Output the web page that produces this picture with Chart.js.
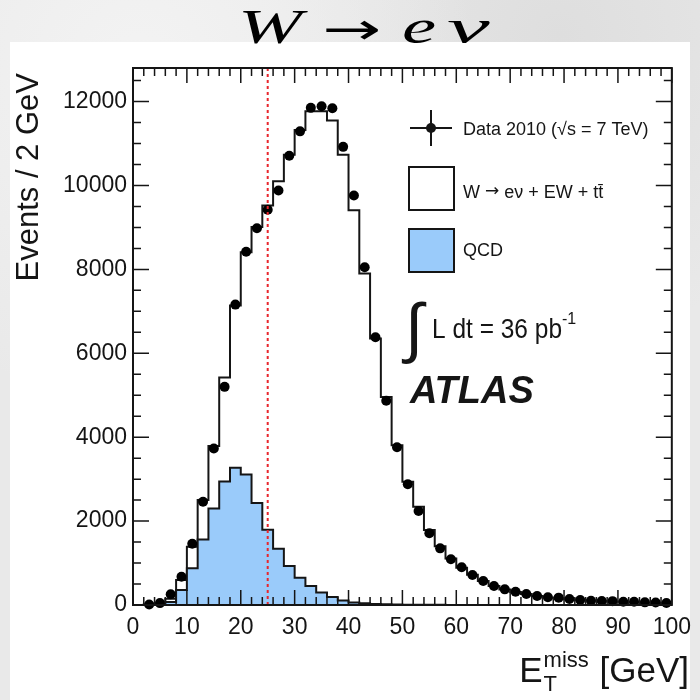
<!DOCTYPE html>
<html>
<head>
<meta charset="utf-8">
<script src="https://cdn.jsdelivr.net/npm/chart.js@4.4.1/dist/chart.umd.min.js"></script>
<style>
html,body{margin:0;padding:0;width:700px;height:700px;overflow:hidden;}
body{background:#e9e9e9;position:relative;
 background-image:radial-gradient(circle at 20% 10%, #f3f3f3 0, rgba(243,243,243,0) 40%),radial-gradient(circle at 80% 5%, #dedede 0, rgba(222,222,222,0) 35%);}
#panel{position:absolute;left:10px;top:42px;width:680px;height:658px;background:#fff;}
.tt{position:absolute;top:3px;font-family:"Liberation Serif","Times New Roman",serif;font-size:48px;line-height:48px;color:#000;white-space:nowrap;transform-origin:left top;transform:scaleX(1.6);}
.it{font-style:italic;}
.arr{font-family:"DejaVu Sans",sans-serif;font-size:44px;top:5px;}
#c{position:absolute;left:0;top:0;}
</style>
</head>
<body>
<div id="panel"></div>
<span class="tt it" style="left:238px">W</span>
<span class="tt arr" style="left:322px;transform:scaleX(1.6)">→</span>
<span class="tt it" style="left:402px">e</span>
<span class="tt it" style="left:447px;transform:scaleX(2.0)">ν</span>
<canvas id="c" width="700" height="700"></canvas>
<script>
// ---- data ----
const binWidth = 2;
const binLow = [0,2,4,6,8,10,12,14,16,18,20,22,24,26,28,30,32,34,36,38,40,42,44,46,48,50,52,54,56,58,60,62,64,66,68,70,72,74,76,78,80,82,84,86,88,90,92,94,96,98];
// W -> e nu + EW + ttbar + QCD stacked total (per bin)
const mcTotal = [0,10,40,150,595,1390,2500,3790,5420,7140,8410,9010,9520,10100,10730,11320,11770,11770,11550,10730,9410,7900,6350,4960,3810,2940,2340,1790,1400,1110,890,720,570,450,370,310,260,215,180,160,140,120,105,95,85,75,68,60,55,50];
// QCD background (per bin)
const qcd = [0,5,15,70,357,873,1560,2302,2945,3270,3111,2430,1795,1340,929,650,450,298,190,110,60,40,25,18,12,8,6,4,3,2,2,1,1,1,0,0,0,0,0,0,0,0,0,0,0,0,0,0,0,0];
// Data 2010
const dataCounts = [null,10,45,255,675,1460,2460,3730,5200,7160,8420,8980,9420,9880,10710,11290,11850,11890,11840,10920,9760,8050,6380,4870,3760,2880,2240,1710,1350,1090,900,715,570,452,373,317,262,214,183,175,143,119,103,95,92,79,77,63,60,48];
const xTickValues = [0,10,20,30,40,50,60,70,80,90,100];
const yTickValues = [0,2000,4000,6000,8000,10000,12000];
const cutValue = 25;
const legendData = "Data 2010 (\u221As = 7 TeV)";
const legendW = ["W ", "\u2192", " e\u03BD + EW + tt\u0304"];
const legendQCD = "QCD";
const lumiText = "L dt = 36 pb";

// ---- build ----
function stepPoints(vals){
  const pts = binLow.map((x,i)=>({x:x, y:vals[i]}));
  pts.push({x: binLow[binLow.length-1]+binWidth, y: vals[vals.length-1]});
  return pts;
}
const dataPts = binLow.map((x,i)=>({x:x+binWidth/2, y:dataCounts[i]})).filter(p=>p.y!==null);

const SANS = '"Liberation Sans", Arial, Helvetica, sans-serif';
const QCD_COLOR = '#9acbfa';
const INK = '#151515';

const overlay = {
  id:'overlay',
  afterDraw(chart){
    const {ctx, chartArea:a, scales:{x,y}} = chart;
    ctx.save();
    // cut line
    const cx = x.getPixelForValue(cutValue);
    ctx.strokeStyle = '#e8262c'; ctx.lineWidth = 2; ctx.setLineDash([3,3]);
    ctx.beginPath(); ctx.moveTo(cx, a.top); ctx.lineTo(cx, a.bottom); ctx.stroke();
    ctx.setLineDash([]);
    // frame
    ctx.strokeStyle = INK; ctx.lineWidth = 2;
    ctx.strokeRect(a.left, a.top, a.right-a.left, a.bottom-a.top);
    // ticks
    ctx.lineWidth = 1.5;
    ctx.beginPath();
    for(let v = x.min; v <= x.max + 1e-9; v += binWidth){
      const px = x.getPixelForValue(v);
      const L = xTickValues.includes(v) ? 15 : 8;
      ctx.moveTo(px, a.bottom); ctx.lineTo(px, a.bottom - L);
      ctx.moveTo(px, a.top); ctx.lineTo(px, a.top + L);
    }
    const yMinor = (yTickValues[1]-yTickValues[0])/4;
    for(let v = y.min; v <= y.max + 1e-9; v += yMinor){
      const py = y.getPixelForValue(v);
      const L = yTickValues.includes(v) ? 16 : 8;
      ctx.moveTo(a.left, py); ctx.lineTo(a.left + L, py);
      ctx.moveTo(a.right, py); ctx.lineTo(a.right - L, py);
    }
    ctx.stroke();

    // legend
    ctx.fillStyle = INK; ctx.strokeStyle = INK;
    ctx.lineWidth = 2;
    ctx.beginPath();
    ctx.moveTo(410,128); ctx.lineTo(452,128);
    ctx.moveTo(431,110); ctx.lineTo(431,146);
    ctx.stroke();
    ctx.beginPath(); ctx.arc(431,128,5,0,Math.PI*2); ctx.fill();
    ctx.font = '18px ' + SANS; ctx.textBaseline = 'middle'; ctx.textAlign = 'left';
    ctx.fillText(legendData, 463, 130, 194);
    ctx.fillStyle = '#fff'; ctx.fillRect(409,167,45,43);
    ctx.strokeRect(409,167,45,43);
    ctx.fillStyle = QCD_COLOR; ctx.fillRect(409,229,45,43);
    ctx.strokeRect(409,229,45,43);
    ctx.fillStyle = INK;
    // W -> e nu + EW + tt
    let lx = 463;
    ctx.font = '18px ' + SANS;
    ctx.fillText(legendW[0], lx, 193); lx += ctx.measureText(legendW[0]).width;
    ctx.font = '17px "DejaVu Sans", sans-serif';
    ctx.fillText(legendW[1], lx, 192); lx += ctx.measureText(legendW[1]).width;
    ctx.font = '18px ' + SANS;
    ctx.fillText(legendW[2], lx, 193);
    ctx.fillText(legendQCD, 463, 251);
    // lumi
    ctx.textBaseline = 'alphabetic';
    ctx.font = '66px ' + SANS;
    ctx.fillText('\u222B', 405, 350);
    ctx.font = '28px ' + SANS;
    ctx.fillText(lumiText, 432, 338, 130);
    ctx.font = '16px ' + SANS;
    ctx.fillText('-1', 562, 324);
    // ATLAS
    ctx.font = 'italic bold 38px ' + SANS;
    ctx.fillText('ATLAS', 410, 403, 126);

    // y axis title
    ctx.save();
    ctx.translate(38, 73); ctx.rotate(-Math.PI/2);
    ctx.font = '31px ' + SANS; ctx.textAlign = 'right'; ctx.textBaseline = 'alphabetic';
    ctx.fillText('Events / 2 GeV', 0, 0);
    ctx.restore();

    // x axis title
    const base = 682;
    ctx.textAlign = 'left';
    ctx.font = '35px ' + SANS; const wE = ctx.measureText('E').width; const wG = ctx.measureText(' [GeV]').width;
    ctx.font = '22px ' + SANS; const wM = ctx.measureText('miss').width;
    const start = 689 - (wE + wM + wG + 2);
    ctx.font = '35px ' + SANS;
    ctx.fillText('E', start, base);
    ctx.fillText(' [GeV]', start + wE + wM + 2, base);
    ctx.font = '22px ' + SANS;
    ctx.fillText('miss', start + wE + 1, base - 15);
    ctx.fillText('T', start + wE + 1, base + 9);
    ctx.restore();
  }
};

new Chart(document.getElementById('c'), {
  type: 'line',
  data: {
    datasets: [
      {label:'Data 2010', data:dataPts, showLine:false, pointRadius:5, pointBackgroundColor:'#000', pointBorderColor:'#000', pointBorderWidth:0, order:0, clip:false},
      {label:'QCD', data:stepPoints(qcd), stepped:'before', fill:'origin', backgroundColor:QCD_COLOR, borderColor:INK, borderWidth:2, pointRadius:0, order:1},
      {label:'W', data:stepPoints(mcTotal), stepped:'before', fill:'origin', backgroundColor:'#ffffff', borderColor:INK, borderWidth:2, pointRadius:0, order:2}
    ]
  },
  options: {
    responsive:false, animation:false, events:[],
    layout:{padding:{left:0, right:27, top:68, bottom:0}},
    plugins:{legend:{display:false}, tooltip:{enabled:false}, title:{display:false}},
    scales:{
      x:{type:'linear', min:0, max:100,
        grid:{display:false, drawTicks:false}, border:{display:false},
        afterBuildTicks:s=>{s.ticks = xTickValues.map(v=>({value:v}));},
        afterFit:s=>{s.height = 95;},
        ticks:{font:{family:SANS, size:23}, color:INK, padding:9, maxRotation:0, autoSkip:false, callback:v=>String(v)}},
      y:{type:'linear', min:0, max:12800,
        grid:{display:false, drawTicks:false}, border:{display:false},
        afterBuildTicks:s=>{s.ticks = yTickValues.map(v=>({value:v}));},
        afterFit:s=>{s.width = 133;},
        ticks:{font:{family:SANS, size:23}, color:INK, padding:6, autoSkip:false, callback:v=>String(v)}}
    }
  },
  plugins:[overlay]
});
</script>
</body>
</html>
